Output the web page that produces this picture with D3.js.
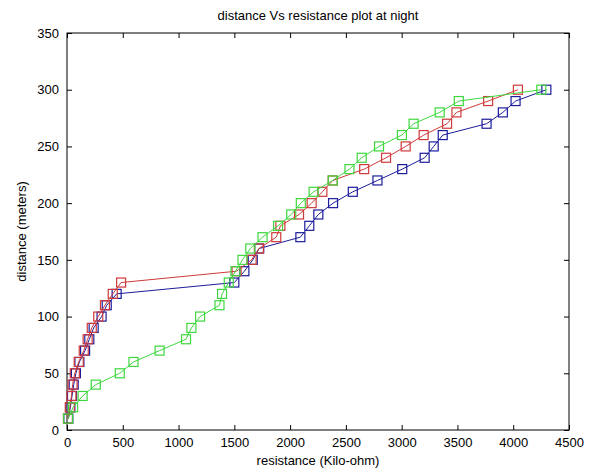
<!DOCTYPE html>
<html>
<head>
<meta charset="utf-8">
<script src="https://cdn.jsdelivr.net/npm/d3@7"></script>
<style>
  body { margin: 0; background: #fff; }
  text { font-family: "Liberation Sans", Arial, sans-serif; fill: #000; }
</style>
</head>
<body>
<div class="chart"></div>
<script>
const distance = d3.range(10, 301, 10)

const blueRes = [12, 30, 45, 60, 80, 111, 162, 200, 239, 310, 356, 445, 1500, 1590, 1665,
  1723, 2092, 2172, 2253, 2385, 2562, 2783, 3005, 3206, 3287, 3368, 3761, 3907, 4021, 4297]
const redRes = [8, 25, 40, 50, 70, 105, 150, 185, 222, 280, 340, 410, 485, 1520, 1655,
  1720, 1876, 1913, 2080, 2193, 2289, 2382, 2664, 2860, 3036, 3197, 3407, 3491, 3775, 4042]
const greenRes = [10, 55, 140, 258, 473, 596, 830, 1067, 1115, 1193, 1367, 1390, 1450, 1510, 1573,
  1643, 1753, 1892, 2010, 2096, 2211, 2382, 2532, 2642, 2797, 3002, 3107, 3341, 3512, 4252]

const xTicks = d3.range(0, 4501, 500)
const yTicks = d3.range(0, 351, 50)

const series = [
  { color: '#1c1c9c', values: blueRes },
  { color: '#d03a3a', values: redRes },
  { color: '#3ed83e', values: greenRes },
]

const width = 595
const height = 472
const margin = { top: 33, right: 26, bottom: 42, left: 67 }

const x = d3.scaleLinear().domain([0, 4500]).range([margin.left, width - margin.right])
const y = d3.scaleLinear().domain([0, 350]).range([height - margin.bottom, margin.top])

const svg = d3.select('.chart')
  .append('svg')
  .attr('width', width)
  .attr('height', height)

// axes box
svg.append('rect')
  .attr('x', x(0))
  .attr('y', y(350))
  .attr('width', x(4500) - x(0))
  .attr('height', y(0) - y(350))
  .attr('fill', 'none')
  .attr('stroke', '#000')

const styleAxis = g => {
  g.select('.domain').remove()
  g.selectAll('text').style('font-size', '13px')
  g.selectAll('line').attr('stroke', '#000')
}

svg.append('g')
  .attr('transform', `translate(0,${y(0)})`)
  .call(d3.axisBottom(x).tickValues(xTicks).tickSize(-5).tickPadding(8).tickFormat(d3.format('d')))
  .call(styleAxis)

svg.append('g')
  .attr('transform', `translate(0,${y(350)})`)
  .call(d3.axisTop(x).tickValues(xTicks).tickSize(-5).tickFormat(''))
  .call(styleAxis)

svg.append('g')
  .attr('transform', `translate(${x(0)},0)`)
  .call(d3.axisLeft(y).tickValues(yTicks).tickSize(-5).tickPadding(8).tickFormat(d3.format('d')))
  .call(styleAxis)

svg.append('g')
  .attr('transform', `translate(${x(4500)},0)`)
  .call(d3.axisRight(y).tickValues(yTicks).tickSize(-5).tickFormat(''))
  .call(styleAxis)

const line = d3.line()
  .x(d => x(d[0]))
  .y(d => y(d[1]))

series.forEach(s => {
  const pts = s.values.map((v, i) => [v, distance[i]])
  svg.append('path')
    .datum(pts)
    .attr('d', line)
    .attr('fill', 'none')
    .attr('stroke', s.color)
    .attr('stroke-width', 1)

  svg.append('g')
    .selectAll('rect')
    .data(pts)
    .enter()
    .append('rect')
    .attr('x', d => x(d[0]) - 4.5)
    .attr('y', d => y(d[1]) - 4.5)
    .attr('width', 9)
    .attr('height', 9)
    .attr('fill', 'none')
    .attr('stroke', s.color)
    .attr('stroke-width', 1.2)
})

svg.append('text')
  .attr('x', (x(0) + x(4500)) / 2)
  .attr('y', 20)
  .attr('text-anchor', 'middle')
  .style('font-size', '13px')
  .text('distance Vs resistance plot at night')

svg.append('text')
  .attr('x', (x(0) + x(4500)) / 2)
  .attr('y', 465)
  .attr('text-anchor', 'middle')
  .style('font-size', '13px')
  .text('resistance (Kilo-ohm)')

svg.append('text')
  .attr('transform', `translate(26,${(y(0) + y(350)) / 2}) rotate(-90)`)
  .attr('text-anchor', 'middle')
  .style('font-size', '13px')
  .text('distance (meters)')
</script>
</body>
</html>
